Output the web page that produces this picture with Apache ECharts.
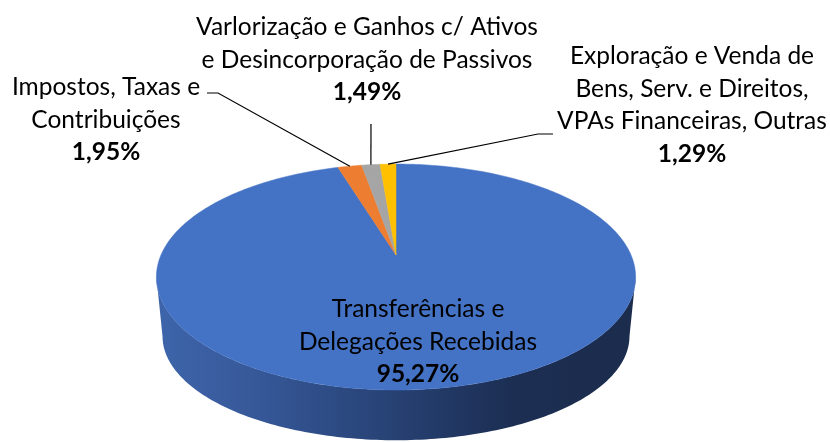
<!DOCTYPE html>
<html>
  <head>
    <meta charset="utf-8" />
    <script src="https://cdn.jsdelivr.net/npm/echarts@6/dist/echarts.min.js"></script>
  </head>
  <body style="margin:0;background:#fff;">
    <div id="main" style="width: 830px;height:442px;"></div>
    <script type="text/javascript">
      // dados
      var categorias = [
        'Transferências e\nDelegações Recebidas',
        'Impostos, Taxas e\nContribuições',
        'Varlorização e Ganhos c/ Ativos\ne Desincorporação de Passivos',
        'Exploração e Venda de\nBens, Serv. e Direitos,\nVPAs Financeiras, Outras'
      ];
      var valores = [95.27, 1.95, 1.49, 1.29];
      var rotulos = ['95,27%', '1,95%', '1,49%', '1,29%'];

      var cores = ['#4472c4', '#ed7d31', '#a5a5a5', '#ffc000'];
      // posicao dos rotulos (centro do bloco) e cotovelo da linha guia
      var posRotulo = [[418, 342], [106, 120], [367, 60], [692, 105]];
      var guia = [null, [[218, 93], [207, 93]], [[371, 124]], [[538, 134], [553, 134]]];

      // "3D" - topo e base em perspectiva
      var topo = { ax: 396, ay: 255, R: 235, Ry: 108.7, k: 0.195 };
      var base = { ax: 396, ay: 316, R: 229, Ry: 100, k: 0.195 };

      function proj(e, ang) {
        var t = ang * Math.PI / 180;
        var w = 1 + e.k * Math.cos(t);
        return [e.ax + e.R * Math.sin(t) / w, e.ay - e.Ry * Math.cos(t) / w];
      }
      function arco(e, a1, a2) {
        var pts = [];
        var n = Math.max(2, Math.ceil(Math.abs(a2 - a1)));
        for (var i = 0; i <= n; i++) pts.push(proj(e, a1 + (a2 - a1) * i / n));
        return pts;
      }

      var total = valores.reduce(function (a, b) { return a + b; }, 0);
      var frenteIni = 90 + Math.asin(topo.k) * 180 / Math.PI;
      var frenteFim = 360 - frenteIni;

      var paredeAzul = new echarts.graphic.LinearGradient(155, 0, 635, 0, [
        { offset: 0, color: '#3e65aa' },
        { offset: 0.2, color: '#37599a' },
        { offset: 0.37, color: '#2d4b84' },
        { offset: 0.55, color: '#243d6c' },
        { offset: 0.75, color: '#1c2e52' },
        { offset: 1, color: '#1b2c4d' }
      ], true);

      var fonte = 'Lato, "Open Sans", sans-serif';

      function renderItem(params, api) {
        var i = params.dataIndex;
        var ini = 0;
        for (var j = 0; j < i; j++) ini += valores[j];
        var a1 = ini / total * 360;
        var a2 = (ini + api.value(0)) / total * 360;
        var filhos = [];

        // parede lateral (parte visivel da frente)
        var p1 = Math.max(a1, frenteIni), p2 = Math.min(a2, frenteFim);
        if (p2 > p1) {
          var pts = arco(topo, p1, p2).concat(arco(base, p2, p1));
          filhos.push({
            type: 'polygon',
            shape: { points: pts },
            style: { fill: i === 0 ? paredeAzul : echarts.color.lift(cores[i], -0.4) }
          });
        }

        // face de cima
        filhos.push({
          type: 'polygon',
          shape: { points: [[topo.ax, topo.ay]].concat(arco(topo, a1, a2)) },
          style: { fill: cores[i], stroke: cores[i], lineWidth: 0.5 }
        });

        // linha guia
        if (guia[i]) {
          var meio = proj(topo, (a1 + a2) / 2);
          filhos.push({
            type: 'polyline',
            shape: { points: [meio].concat(guia[i]) },
            style: { stroke: '#000', lineWidth: 1.2, fill: null }
          });
        }

        // rotulo
        var linhas = categorias[i].split('\n').map(function (l) { return '{n|' + l + '}'; });
        linhas.push('{b|' + rotulos[i] + '}');
        filhos.push({
          type: 'text',
          style: {
            text: linhas.join('\n'),
            x: posRotulo[i][0],
            y: posRotulo[i][1],
            align: 'center',
            verticalAlign: 'middle',
            rich: {
              n: { fontFamily: fonte, fontSize: 24.5, lineHeight: 32.5, fill: '#000' },
              b: { fontFamily: fonte, fontSize: 24.5, lineHeight: 32.5, fontWeight: 'bold', fill: '#000' }
            }
          }
        });

        return { type: 'group', children: filhos };
      }

      var myChart = echarts.init(document.getElementById('main'));
      var option = {
        animation: false,
        series: [
          {
            type: 'custom',
            coordinateSystem: 'none',
            renderItem: renderItem,
            data: valores.map(function (v, i) { return { name: categorias[i], value: [v] }; })
          }
        ]
      };
      myChart.setOption(option);
    </script>
  </body>
</html>
